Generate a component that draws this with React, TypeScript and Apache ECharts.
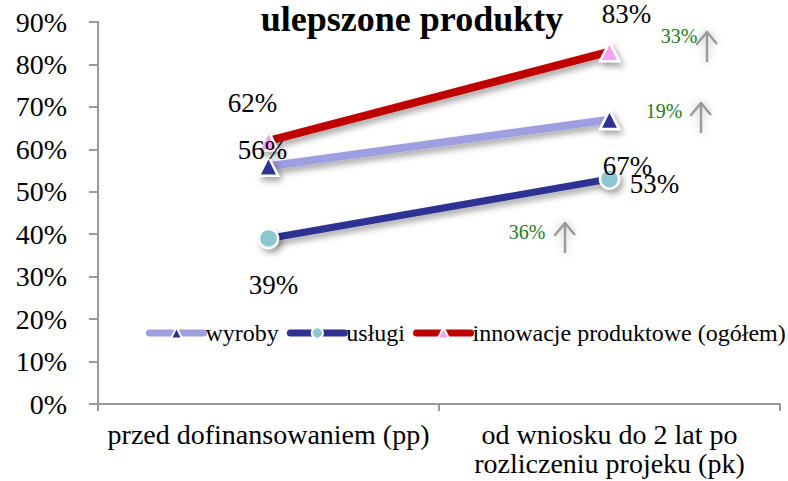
import React, { useEffect, useRef } from 'react';
import * as echarts from 'echarts';

const categories = ['przed dofinansowaniem (pp)', 'od wniosku do 2 lat po\nrozliczeniu projeku (pk)'];
const seriesNames = ['wyroby', 'usługi', 'innowacje produktowe (ogółem)'];
const wyroby = [0.56, 0.67];
const uslugi = [0.39, 0.53];
const innowacje = [0.62, 0.83];
const growthLabels = ['33%', '19%', '36%'];
const titleText = 'ulepszone produkty';

const FONT = "'Liberation Serif', serif";

// label offsets (style, not data)
const wyrobyOffsets = [[-6, -16], [18, 46]];
const uslugiOffsets = [[5, 47], [45, 5]];
const innowacjeOffsets = [[-16, -38], [17, -38]];

// annotation placement: [textX, textY, arrowX, arrowTop, arrowBottom]
const growthPlacement = [
  [679, 36, 707, 32, 62],
  [664, 111, 701, 103, 133],
  [527, 232, 565, 223, 253],
];

const pct = (v: number) => Math.round(v * 100) + '%';

const shadow = {
  shadowColor: 'rgba(0,0,0,0.35)',
  shadowBlur: 6,
  shadowOffsetX: 3,
  shadowOffsetY: 4,
};

function makeData(values: number[], offsets: number[][]) {
  return values.map((v, i) => ({
    value: v,
    label: { offset: offsets[i] },
  }));
}

export default function App() {
  const ref = useRef<HTMLDivElement>(null);
  useEffect(() => {
    if (!ref.current) return;
    const chart = echarts.init(ref.current, undefined, { renderer: 'svg' });
    const labelCfg = {
      show: true,
      position: 'inside',
      formatter: (p: any) => pct(p.value),
      color: '#000',
      fontSize: 27,
      fontFamily: FONT,
      align: 'center',
      verticalAlign: 'middle',
    };
    const graphics: any[] = [
      {
        type: 'text',
        x: 412,
        y: 19,
        style: {
          text: titleText,
          fill: '#000',
          fontSize: 36,
          fontWeight: 'bold',
          fontFamily: FONT,
          align: 'center',
          verticalAlign: 'middle',
        },
      },
    ];
    growthLabels.forEach((t, i) => {
      const [tx, ty, ax, at, ab] = growthPlacement[i];
      graphics.push({
        type: 'text',
        x: tx,
        y: ty,
        style: {
          text: t,
          fill: '#1E7B1E',
          fontSize: 20,
          fontFamily: FONT,
          align: 'center',
          verticalAlign: 'middle',
        },
      });
      graphics.push({
        type: 'polyline',
        shape: {
          points: [
            [ax, ab],
            [ax, at],
            [ax - 10, at + 12],
            [ax, at],
            [ax + 10, at + 12],
          ],
        },
        style: {
          stroke: '#9a9a9a',
          lineWidth: 2.5,
          fill: 'none',
          lineJoin: 'round',
          shadowColor: 'rgba(0,0,0,0.25)',
          shadowBlur: 8,
        },
      });
    });

    chart.setOption({
      animation: false,
      backgroundColor: '#fff',
      textStyle: { fontFamily: FONT },
      grid: { left: 98, right: 8, top: 22, bottom: 77, containLabel: false },
      legend: {
        left: 141,
        top: 316,
        width: 646,
        itemWidth: 54,
        itemHeight: 14,
        itemGap: 8,
        lineStyle: { width: 7, cap: 'round' },
        textStyle: { color: '#000', fontSize: 24, fontFamily: FONT, padding: [0, 0, 0, -3] },
        data: seriesNames,
      },
      xAxis: {
        type: 'category',
        data: categories,
        boundaryGap: true,
        axisLine: { lineStyle: { color: '#999', width: 2 } },
        axisTick: { show: true, length: 7, lineStyle: { color: '#999', width: 2 } },
        axisLabel: {
          color: '#000',
          fontSize: 28,
          fontFamily: FONT,
          lineHeight: 29,
          margin: 16,
          interval: 0,
        },
        splitLine: { show: false },
      },
      yAxis: {
        type: 'value',
        min: 0,
        max: 0.9,
        interval: 0.1,
        axisLine: { show: true, lineStyle: { color: '#999', width: 2 } },
        axisTick: { show: true, length: 9, lineStyle: { color: '#999', width: 2 } },
        axisLabel: {
          color: '#000',
          fontSize: 28,
          fontFamily: FONT,
          margin: 31,
          formatter: (v: number) => pct(v),
        },
        splitLine: { show: false },
      },
      series: [
        {
          name: seriesNames[0],
          type: 'line',
          data: makeData(wyroby, wyrobyOffsets),
          symbol: 'triangle',
          symbolSize: 19,
          lineStyle: { color: '#9E9EE0', width: 8, ...shadow },
          itemStyle: { color: '#2E3192', borderColor: '#fff', borderWidth: 2.5, ...shadow },
          label: labelCfg,
          z: 2,
        },
        {
          name: seriesNames[1],
          type: 'line',
          data: makeData(uslugi, uslugiOffsets),
          symbol: 'circle',
          symbolSize: 19,
          lineStyle: { color: '#2E3192', width: 7, ...shadow },
          itemStyle: { color: '#8CC8D0', borderColor: '#fff', borderWidth: 2.5, ...shadow },
          label: labelCfg,
          z: 2,
        },
        {
          name: seriesNames[2],
          type: 'line',
          data: makeData(innowacje, innowacjeOffsets),
          symbol: 'triangle',
          symbolSize: 19,
          lineStyle: { color: '#C00000', width: 8, ...shadow },
          itemStyle: { color: '#F9A0F0', borderColor: '#fff', borderWidth: 2.5, ...shadow },
          label: labelCfg,
          z: 2,
        },
      ],
      graphic: graphics,
    });
    return () => chart.dispose();
  }, []);
  return <div ref={ref} style={{ width: 788, height: 481, position: 'absolute', left: 0, top: 0 }} />;
}
